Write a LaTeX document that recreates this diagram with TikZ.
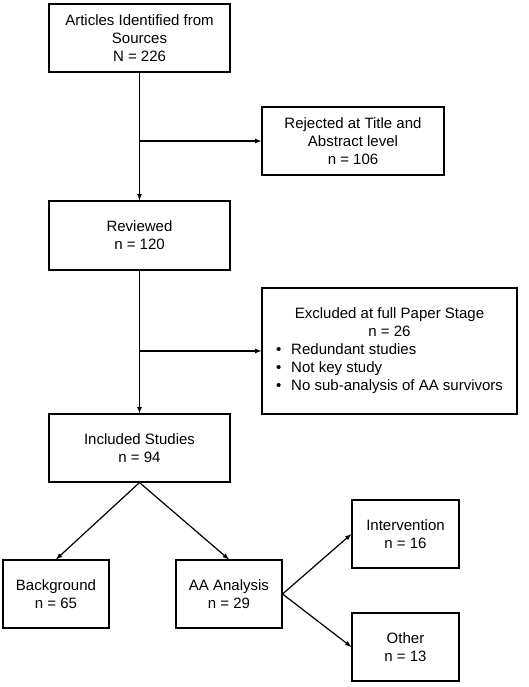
\documentclass[tikz,border=0pt]{standalone}
\usepackage{fontspec}
\setmainfont{Liberation Sans}
\begin{document}
\begin{tikzpicture}[>=latex,x=1pt,y=-1pt,line width=1.2pt,
  box/.style={draw,line width=1.1pt,align=center,inner sep=0pt,
    font=\fontsize{15}{18}\selectfont}]
\path[use as bounding box] (0,0) rectangle (529,687);
\coordinate (S1) at (139.5,38);
\coordinate (S2) at (353,141);
\coordinate (S3) at (139.5,235.5);
\coordinate (S4) at (389.5,351);
\coordinate (S5) at (139.5,448);
\coordinate (T1) at (56,594);
\coordinate (T2) at (229,594);
\coordinate (T3) at (405.5,534);
\coordinate (T4) at (405.5,647);
\node[box,minimum width=181pt,minimum height=68pt] (src) at (S1) {Articles Identified from\\Sources\\N = 226};
\node[box,minimum width=182pt,minimum height=68pt] (rej) at (S2) {Rejected at Title and\\Abstract level\\n = 106};
\node[box,minimum width=181pt,minimum height=69pt] (rev) at (S3) {Reviewed\\n = 120};
\node[box,minimum width=255pt,minimum height=126pt] (exc) at (S4) {\begin{tabular}{@{}l@{}}
  \multicolumn{1}{c}{Excluded at full Paper Stage}\\
  \multicolumn{1}{c}{n = 26}\\
  \textbullet\hspace{10pt}Redundant studies\\
  \textbullet\hspace{10pt}Not key study\\
  \textbullet\hspace{10pt}No sub-analysis of AA survivors
\end{tabular}};
\node[box,minimum width=181pt,minimum height=68pt] (inc) at (S5) {Included Studies\\n = 94};
\node[box,minimum width=106pt,minimum height=68pt] (bg) at (T1) {Background\\n = 65};
\node[box,minimum width=106pt,minimum height=68pt] (aa) at (T2) {AA Analysis\\n = 29};
\node[box,minimum width=107pt,minimum height=68pt] (int) at (T3) {Intervention\\n = 16};
\node[box,minimum width=107pt,minimum height=68pt] (oth) at (T4) {Other\\n = 13};
\coordinate (B1) at (src.south |- rej.west);
\coordinate (B2) at (rev.south |- exc.west);
\draw[->] (src) -- (rev);
\draw[->] (B1) -- (rej);
\draw[->] (rev) -- (inc);
\draw[->] (B2) -- (exc);
\draw[->] (inc.south) -- (bg.north);
\draw[->] (inc.south) -- (aa.north);
\draw[->] (aa.east) -- (int.west);
\draw[->] (aa.east) -- (oth.west);
\end{tikzpicture}
\end{document}
